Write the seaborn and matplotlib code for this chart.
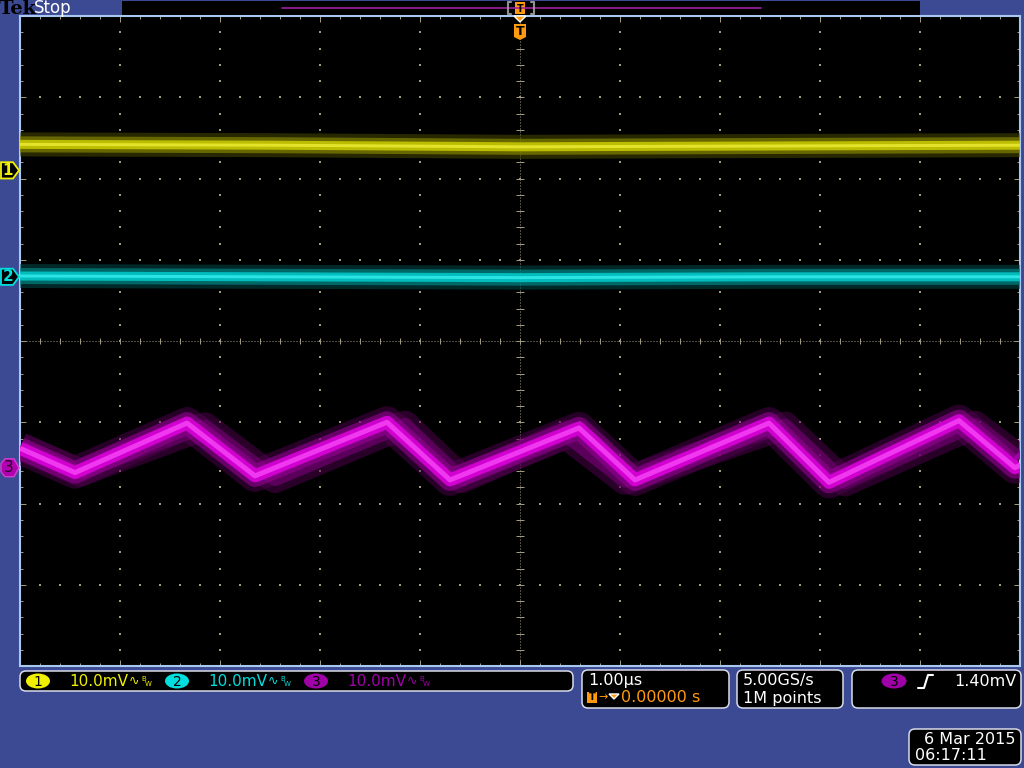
import numpy as np
import matplotlib
matplotlib.use("Agg")
import matplotlib.pyplot as plt
import matplotlib.patches as mpatches
import matplotlib.transforms as mtrans
import seaborn as sns

# waveform vertices (time in us, level in divisions)
ch1_t = [-5.0, -2.5, 0.0, 2.5, 5.0]
ch1_v = [2.42, 2.41, 2.39, 2.40, 2.41]
ch2_t = [-5.0, -2.5, 0.0, 2.5, 5.0]
ch2_v = [0.80, 0.79, 0.78, 0.79, 0.79]
ch3_t = [-5.0, -4.45, -3.33, -2.65, -1.33, -0.70, 0.59, 1.15, 2.49, 3.09, 4.39, 4.95, 5.0]
ch3_v = [-1.32, -1.62, -1.01, -1.66, -1.00, -1.71, -1.07, -1.71, -1.01, -1.74, -0.98, -1.56, -1.53]
ch3_ghost_t = [-5.0, -4.40, -3.15, -2.45, -1.15, -0.58, 0.45, 1.05, 2.65, 3.25, 4.55, 5.0]
ch3_ghost_v = [-1.30, -1.62, -1.05, -1.70, -1.03, -1.70, -1.15, -1.72, -1.04, -1.74, -1.03, -1.45]

marker_lvl = [2.10, 0.79, -1.56]
trig_lvl = -1.43
channels = ["1", "2", "3"]
ch_colors = ["#f0f000", "#00dede", "#a000a8"]
scale_labels = ["10.0mV", "10.0mV", "10.0mV"]
timebase = "1.00µs"
trig_pos = "0.00000 s"
sample_rate = "5.00GS/s"
record_len = "1M points"
trig_level = "1.40mV"
date_str = "6 Mar 2015"
time_str = "06:17:11"

sns.set_theme(style="dark")
plt.rcParams["font.family"] = ["DejaVu Sans"]

BLUE = "#3c4a94"
FRAME = "#a8c8f0"
DOT = "#a09a80"
ORANGE = "#ff9a10"
PX = 0.72  # points per pixel at dpi 100

fig = plt.figure(figsize=(10.24, 7.68), dpi=100, facecolor=BLUE)

# ---- scope screen ----
ax = fig.add_axes([20 / 1024, 102 / 768, 1000 / 1024, 650 / 768])
ax.set_facecolor("black")
ax.set_xlim(-5, 5)
ax.set_ylim(-4, 4)

# graticule dots
gx, gy = [], []
for xi in range(-4, 5):
    if xi == 0:
        continue
    for yy in np.arange(-4, 4.001, 0.2):
        gx.append(xi); gy.append(yy)
for yi in range(-3, 4):
    if yi == 0:
        continue
    for xx in np.arange(-5, 5.001, 0.2):
        gx.append(xx); gy.append(yi)
ax.scatter(gx, gy, s=1.0, marker="s", color=DOT, linewidths=0, zorder=1)
ax.axhline(0, color=DOT, lw=PX, linestyle=(0, (1, 2)), zorder=1)
ax.axvline(0, color=DOT, lw=PX, linestyle=(0, (1, 2)), zorder=1)
ax.vlines(np.arange(-5, 5.001, 0.2), -0.035, 0.035, color=DOT, lw=PX, zorder=1)
ax.hlines(np.arange(-4, 4.001, 0.2), -0.04, 0.04, color=DOT, lw=PX, zorder=1)

ax.set_xticks(np.arange(-5, 5.001, 1))
ax.set_xticks(np.arange(-5, 5.001, 0.2), minor=True)
ax.set_yticks(np.arange(-4, 4.001, 1))
ax.set_yticks(np.arange(-4, 4.001, 0.2), minor=True)
ax.tick_params(which="both", direction="in", top=True, right=True, bottom=True, left=True,
               labelbottom=False, labelleft=False, color=DOT, width=PX)
ax.tick_params(which="major", length=4.5)
ax.tick_params(which="minor", length=2.2)
ax.grid(False)
for s in ax.spines.values():
    s.set_color(FRAME)
    s.set_linewidth(1.5)


def trace(t, v, widths, colors, alphas):
    for w, c, a in zip(widths, colors, alphas):
        sns.lineplot(x=t, y=v, ax=ax, color=c, linewidth=w * PX, alpha=a, estimator=None,
                     sort=False, legend=False, solid_capstyle="butt", solid_joinstyle="round", zorder=3)


trace(ch1_t, ch1_v, [24, 16, 9, 3], ["#4a4a00", "#8a8a00", "#cccc00", "#f4f440"], [0.55, 0.65, 0.85, 0.7])
trace(ch2_t, ch2_v, [24, 16, 9, 3], ["#004a4a", "#008a8a", "#00cccc", "#40f4f4"], [0.55, 0.65, 0.85, 0.7])
trace(ch3_ghost_t, ch3_ghost_v, [28, 14], ["#500050", "#900090"], [0.5, 0.5])
trace(ch3_t, ch3_v, [32, 22, 13, 5], ["#580058", "#980098", "#e000e0", "#ff50ff"], [0.45, 0.6, 0.85, 0.7])

# ---- overlay in screen pixels ----
ov = fig.add_axes([0, 0, 1, 1], zorder=5)
ov.set_xlim(0, 1024)
ov.set_ylim(768, 0)
ov.axis("off")
ov.patch.set_alpha(0)
mix = mtrans.blended_transform_factory(ov.transData, ax.transData)

# top status bar
ov.text(-1, 8.5, "Tek", fontsize=14, family="DejaVu Serif", weight="bold", color="black", va="center")
ov.text(34, 8, "Stop", fontsize=12, color="white", va="center")
ov.add_patch(mpatches.Rectangle((122, 1), 798, 14, facecolor="black", edgecolor="none"))
ov.plot([282, 761], [8, 8], color="#a020a0", lw=1.2)
for bx, d in [(508, 1), (534, -1)]:
    ov.plot([bx + 3 * d, bx, bx, bx + 3 * d], [2, 2, 14, 14], color="#909090", lw=1.5)
ov.add_patch(mpatches.Rectangle((515, 2), 10, 12, facecolor=ORANGE, edgecolor="none"))
ov.text(520, 8.5, "T", fontsize=7, color="black", ha="center", va="center", weight="bold")
ov.add_patch(mpatches.Polygon([(514, 16), (526, 16), (520, 22)], closed=True, facecolor=ORANGE))
ov.add_patch(mpatches.Polygon([(514, 24), (526, 24), (526, 37), (520, 40), (514, 37)],
                              closed=True, facecolor=ORANGE, edgecolor="none"))
ov.text(520, 31.5, "T", fontsize=9, color="black", ha="center", va="center", weight="bold")

# channel ground markers
for ch, lvl, col in zip(channels, marker_lvl, ch_colors):
    pts = [(1, lvl + 0.1), (13, lvl + 0.1), (19, lvl), (13, lvl - 0.1), (1, lvl - 0.1)]
    if ch == "3":
        pts = [(1, lvl + 0.05), (5, lvl + 0.11), (14, lvl + 0.11), (19, lvl), (14, lvl - 0.11),
               (5, lvl - 0.11), (1, lvl - 0.05)]
        ov.add_patch(mpatches.Polygon(pts, closed=True, facecolor="#b000b0", edgecolor="#d040d0",
                                      lw=1, transform=mix))
        ov.text(9, lvl, ch, fontsize=11, color="#200020", ha="center", va="center", transform=mix)
    else:
        ov.add_patch(mpatches.Polygon(pts, closed=True, facecolor="black", edgecolor=col,
                                      lw=1.3, transform=mix))
        ov.text(8, lvl, ch, fontsize=11, color=col, ha="center", va="center", weight="bold", transform=mix)
ov.add_patch(mpatches.Polygon([(1020, trig_lvl + 0.08), (1020, trig_lvl - 0.02), (1012, trig_lvl - 0.02)],
                              closed=True, facecolor="#a000a8", edgecolor="none", transform=mix))


def box(x0, y0, x1, y1):
    ov.add_patch(mpatches.FancyBboxPatch((x0, y0), x1 - x0, y1 - y0,
                                         boxstyle="round,pad=0,rounding_size=6",
                                         facecolor="black", edgecolor="#d8dce8", lw=1.1))


# vertical scale readout
box(20, 671, 573, 691)
for i, (ch, lab, col) in enumerate(zip(channels, scale_labels, ch_colors)):
    cx = [38, 177, 316][i]
    ov.add_patch(mpatches.Ellipse((cx, 681), 24, 15, facecolor=col, edgecolor="none"))
    ov.text(cx, 681.5, ch, fontsize=10, color="black", ha="center", va="center")
    ov.text(cx + 31, 682, lab, fontsize=11, color=col, va="center")
    ov.text(cx + 91, 681, "∿", fontsize=9, color=col, va="center")
    ov.text(cx + 103, 679, "B", fontsize=5, color=col, va="center")
    ov.text(cx + 107, 684, "W", fontsize=5, color=col, va="center")

# horizontal readout
box(582, 670, 729, 708)
ov.text(588, 680, timebase, fontsize=11.5, color="white", va="center")
ov.add_patch(mpatches.Rectangle((587, 692), 10, 11, facecolor=ORANGE, edgecolor="none"))
ov.text(592, 697.5, "T", fontsize=7, color="black", ha="center", va="center", weight="bold")
ov.text(598, 697, "→", fontsize=8, color=ORANGE, va="center")
ov.add_patch(mpatches.Polygon([(609, 694), (619, 694), (614, 699)], closed=True, facecolor=ORANGE))
ov.text(621, 698, trig_pos, fontsize=11.5, color=ORANGE, va="center")

# acquisition readout
box(737, 670, 843, 708)
ov.text(743, 680, sample_rate, fontsize=11.5, color="white", va="center")
ov.text(743, 698, record_len, fontsize=11.5, color="white", va="center")

# trigger readout
box(852, 670, 1021, 708)
ov.add_patch(mpatches.Ellipse((894, 681), 25, 15, facecolor="#a000a8", edgecolor="none"))
ov.text(894, 681.5, "3", fontsize=10, color="black", ha="center", va="center")
ov.plot([918, 924, 928, 933], [688, 688, 675, 675], color="white", lw=1.5)
ov.text(1016, 681, trig_level, fontsize=11.5, color="white", ha="right", va="center")

# date / time
box(909, 729, 1021, 765)
ov.text(1016, 739, date_str, fontsize=11.5, color="white", ha="right", va="center")
ov.text(915, 756, time_str, fontsize=11.5, color="white", va="center")

fig.savefig("out.png", dpi=100, facecolor=BLUE)
